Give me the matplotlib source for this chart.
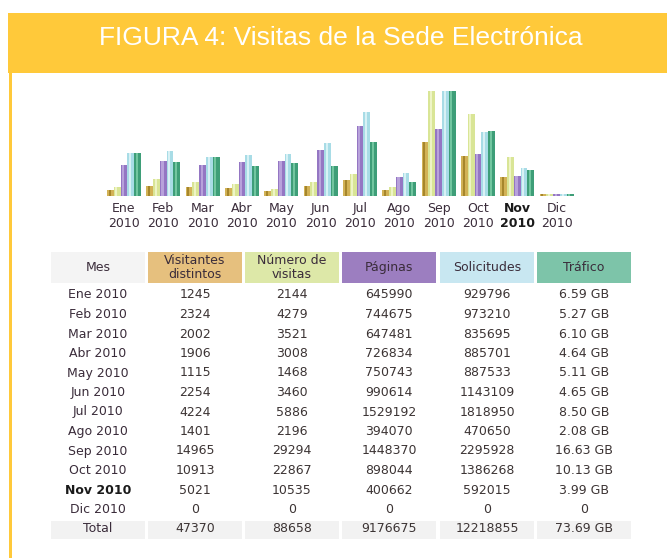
import numpy as np
import matplotlib.pyplot as plt
from matplotlib.patches import Rectangle

months = ['Ene', 'Feb', 'Mar', 'Abr', 'May', 'Jun', 'Jul', 'Ago', 'Sep', 'Oct', 'Nov', 'Dic']
year = '2010'
visitors = [1245, 2324, 2002, 1906, 1115, 2254, 4224, 1401, 14965, 10913, 5021, 0]
visits = [2144, 4279, 3521, 3008, 1468, 3460, 5886, 2196, 29294, 22867, 10535, 0]
pages = [645990, 744675, 647481, 726834, 750743, 990614, 1529192, 394070, 1448370, 898044, 400662, 0]
hits = [929796, 973210, 835695, 885701, 887533, 1143109, 1818950, 470650, 2295928, 1386268, 592015, 0]
traffic = [6.59, 5.27, 6.10, 4.64, 5.11, 4.65, 8.50, 2.08, 16.63, 10.13, 3.99, 0]
totals = ['47370', '88658', '9176675', '12218855', '73.69 GB']
headers = ['Mes', 'Visitantes\ndistintos', 'Número de\nvisitas', 'Páginas', 'Solicitudes', 'Tráfico']
current = 'Nov'

W, H = 667, 558
fig = plt.figure(figsize=(W / 100, H / 100), dpi=100)
fig.patch.set_facecolor('white')

# pixel overlay for banner and table
ov = fig.add_axes([0, 0, 1, 1])
ov.set_xlim(0, W)
ov.set_ylim(H, 0)
ov.axis('off')

yellow = '#FFC93A'
ov.add_patch(Rectangle((8, 13), W - 8, 60, color=yellow, lw=0))
ov.add_patch(Rectangle((9, 73), 3, H - 73, color=yellow, lw=0))
ov.text(341, 38, 'FIGURA 4: Visitas de la Sede Electrónica', color='white',
        fontsize=19, ha='center', va='center',
        family=['Liberation Sans Narrow', 'Liberation Sans', 'DejaVu Sans'])

# bar chart, AWStats style scaling
ax = fig.add_axes([104.3 / W, (H - 196) / H, 472 / W, 105 / H])
ax.set_xlim(-0.5, 11.5)
ax.set_ylim(-0.015, 1.0)
ax.axis('off')

x = np.arange(len(months))
bw = 0.172
max_v = max(visits)
max_h = max(hits)
max_t = max(traffic)
series = [
    (np.array(visitors) / max_v, '#D2B256', '#A6862C'),
    (np.array(visits) / max_v, '#D9E596', '#EEF4C6'),
    (np.array(pages) / max_h, '#9476C3', '#B8A2DB'),
    (np.array(hits) / max_h, '#A8DCE6', '#D8F1F5'),
    (np.array(traffic) / max_t, '#3E9E78', '#72C6A0'),
]
base = -0.015
for i, (vals, c1, c2) in enumerate(series):
    pos = x + (i - 2) * bw
    ax.bar(pos, vals - base, bottom=base, width=bw, color=c1, lw=0)
    ax.bar(pos - bw * 0.12, vals - base, bottom=base, width=bw * 0.3, color=c2, lw=0)

txt_col = '#3a2c3a'
fs = 9
for i, m in enumerate(months):
    ax.text(x[i], -0.07, m + '\n' + year, ha='center', va='top', fontsize=fs,
            color='#1a1a1a' if m == current else txt_col, linespacing=1.25,
            fontweight='bold' if m == current else 'normal', transform=ax.transData)

# table
col_left = [51, 148, 245, 342, 440, 537]
cw = 94
head_bg = ['#F4F4F4', '#E6C07E', '#DDE8A8', '#9C7EC0', '#C8E7F1', '#7DC4A9']
for j, h in enumerate(headers):
    ov.add_patch(Rectangle((col_left[j], 252), cw, 31, color=head_bg[j], lw=0))
    ov.text(col_left[j] + cw / 2, 267.5, h, ha='center', va='center', fontsize=fs,
            color='#3a2c3a', linespacing=1.05)

row0 = 295
pitch = 19.5
cols = [visitors, visits, pages, hits]
for i, m in enumerate(months):
    y = row0 + i * pitch
    ov.text(col_left[0] + cw / 2, y, m + ' ' + year, ha='center', va='center', fontsize=fs,
            color='#1a1a1a' if m == current else txt_col,
            fontweight='bold' if m == current else 'normal')
    vals = [str(c[i]) for c in cols]
    vals.append('%.2f GB' % traffic[i] if traffic[i] else '0')
    for j, v in enumerate(vals):
        ov.text(col_left[j + 1] + cw / 2, y, v, ha='center', va='center', fontsize=fs,
                color='#3c3434')

y = row0 + len(months) * pitch
for j in range(6):
    ov.add_patch(Rectangle((col_left[j], y - 8.5), cw, 18, color='#F2F2F2', lw=0))
ov.text(col_left[0] + cw / 2, y, 'Total', ha='center', va='center', fontsize=fs, color=txt_col)
for j, v in enumerate(totals):
    ov.text(col_left[j + 1] + cw / 2, y, v, ha='center', va='center', fontsize=fs, color='#3c3434')

fig.savefig('out.png', dpi=100)
